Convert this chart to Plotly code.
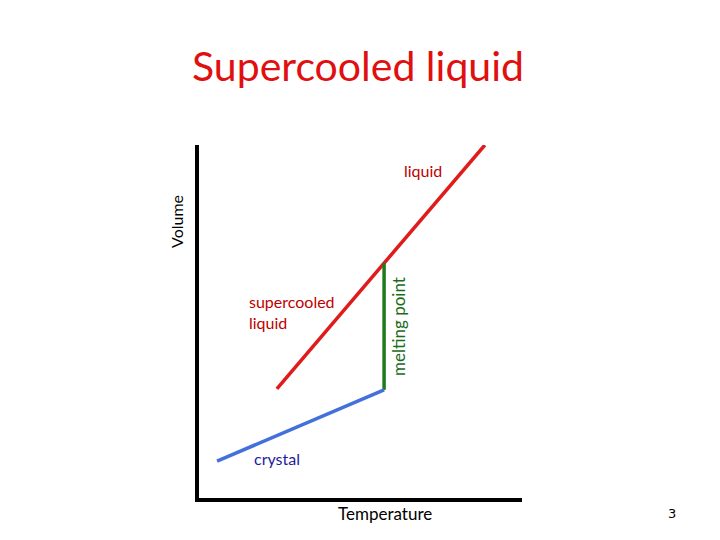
import plotly.graph_objects as go

# schematic volume vs temperature (arbitrary units)
liquid_T = [2.41, 8.85]
liquid_V = [3.40, 11.0]
melt_T = [5.73, 5.73]
melt_V = [3.37, 7.32]
crystal_T = [0.56, 5.73]
crystal_V = [1.15, 3.37]

fig = go.Figure()
fig.add_trace(go.Scatter(x=liquid_T, y=liquid_V, mode='lines',
                         line=dict(color='#e01b1b', width=3.5)))
fig.add_trace(go.Scatter(x=melt_T, y=melt_V, mode='lines',
                         line=dict(color='#1e7a1e', width=3.5)))
fig.add_trace(go.Scatter(x=crystal_T, y=crystal_V, mode='lines',
                         line=dict(color='#4470dc', width=3.5)))

font = "Lato, Open Sans, sans-serif"
fig.add_annotation(x=6.93, y=10.19, text="liquid", showarrow=False,
                   font=dict(size=16, color='#c00000', family=font))
fig.add_annotation(x=1.49, y=5.80, text="supercooled<br>liquid", showarrow=False,
                   xanchor='left', align='left',
                   font=dict(size=16, color='#c00000', family=font))
fig.add_annotation(x=6.19, y=5.36, text="melting point", showarrow=False, textangle=-90,
                   font=dict(size=17, color='#1a6b1a', family=font))
fig.add_annotation(x=2.41, y=1.22, text="crystal", showarrow=False,
                   font=dict(size=16, color='#1c1ca0', family=font))
# labels outside the axes box go in paper coordinates
fig.add_annotation(xref='paper', yref='paper', x=0.576, y=-0.0425, text="Temperature",
                   showarrow=False, xanchor='center', yanchor='middle',
                   font=dict(size=17, color='black', family=font))
fig.add_annotation(xref='paper', yref='paper', x=-0.068, y=0.782, text="Volume",
                   showarrow=False, textangle=-90, xanchor='center', yanchor='middle',
                   font=dict(size=16, color='black', family=font))
fig.add_annotation(xref='paper', yref='paper', x=1.464, y=-0.045, text="3",
                   showarrow=False, xanchor='center', yanchor='middle',
                   font=dict(size=13, color='black', family="DejaVu Sans"))

fig.update_layout(
    width=720, height=540,
    margin=dict(l=191, r=206, t=137, b=50),
    plot_bgcolor='white', paper_bgcolor='white',
    showlegend=False,
    title=dict(text="Supercooled liquid", xref='container', x=350/720,
               y=1 - 59/540, xanchor='center', yanchor='middle',
               font=dict(size=41, color='#e01010', family=font)),
    xaxis=dict(range=[0, 10], showgrid=False, zeroline=False, showticklabels=False,
               ticks='', showline=True, linecolor='black', linewidth=3.5),
    yaxis=dict(range=[0, 11], showgrid=False, zeroline=False, showticklabels=False,
               ticks='', showline=True, linecolor='black', linewidth=3.5),
)

fig.write_html("out.html")
